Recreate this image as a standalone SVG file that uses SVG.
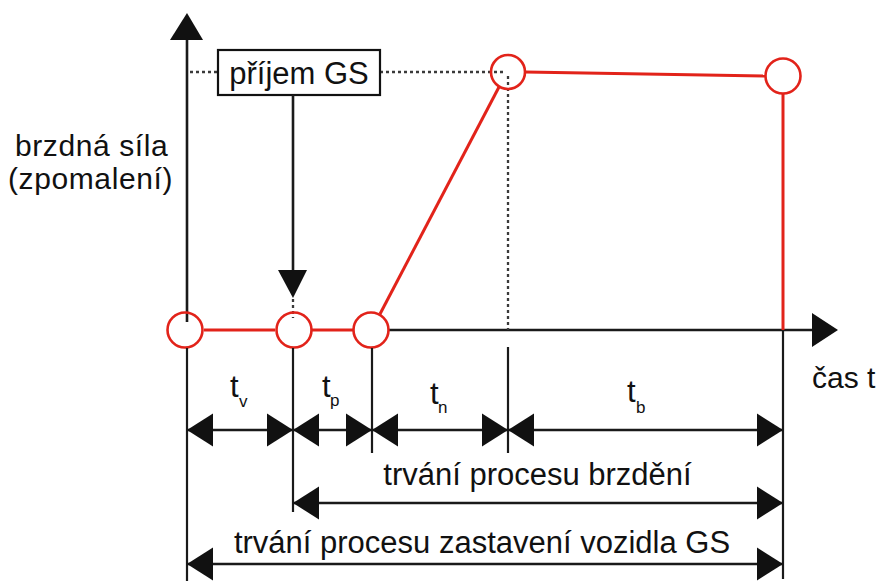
<svg xmlns="http://www.w3.org/2000/svg" width="884" height="581" viewBox="0 0 884 581">
  <style>
    .ax { stroke: #1a1a1a; stroke-width: 2.6; fill: none; }
    .dim { stroke: #1a1a1a; stroke-width: 2.4; fill: none; marker-start: url(#tip); marker-end: url(#tip); }
    .ext { stroke: #1a1a1a; stroke-width: 2.2; fill: none; }
    .dot { stroke: #3a3a3a; stroke-width: 2.3; stroke-dasharray: 3 3; fill: none; }
    .red { stroke: #e2231a; stroke-width: 3; fill: none; }
    .node { stroke: #e2231a; stroke-width: 2.6; fill: none; }
    .lbl { font-family: "Liberation Sans", Arial, sans-serif; fill: #111; }
    .big { font-size: 31px; }
    .sub { font-size: 17px; }
  </style>
  <defs>
    <marker id="tip" markerUnits="userSpaceOnUse" markerWidth="26" markerHeight="34" viewBox="0 -17 26 34" refX="26" refY="0" orient="auto-start-reverse">
      <path d="M0,-16.5 L26,0 L0,16.5 Z" fill="#111"/>
    </marker>
  </defs>

  <rect width="884" height="581" fill="#fff"/>

  <!-- axes -->
  <g id="axes">
    <line class="ax" x1="187" y1="38" x2="187" y2="322"/>
    <path d="M187,13 L203,40 L170,40 Z" fill="#111"/>
    <line class="ax" x1="389" y1="330" x2="814" y2="330"/>
    <path d="M838,330 L812,313 L812,347 Z" fill="#111"/>
    <text class="lbl" x="15" y="156" font-size="30" letter-spacing="0.6">brzdná síla</text>
    <text class="lbl" x="8" y="189" font-size="30" letter-spacing="0.6">(zpomalení)</text>
    <text class="lbl" x="812" y="388" font-size="30">čas t</text>
  </g>

  <!-- guide lines -->
  <g id="guides">
    <line class="dot" x1="190" y1="72" x2="218" y2="72"/>
    <line class="dot" x1="380" y1="72" x2="505" y2="72"/>
    <line class="dot" x1="508" y1="76" x2="508" y2="330"/>
    <line class="dot" x1="293" y1="299" x2="293" y2="318"/>
  </g>

  <!-- brake force curve -->
  <g id="curve">
    <line class="red" x1="204" y1="330" x2="275" y2="330"/>
    <line class="red" x1="311" y1="330" x2="354" y2="330"/>
    <line class="red" x1="380" y1="314" x2="499" y2="87"/>
    <line class="red" x1="525" y1="72" x2="765" y2="76"/>
    <line class="red" x1="783" y1="94" x2="783" y2="330"/>
  </g>

  <g id="p0"><circle class="node" cx="185" cy="330" r="17.5"/></g>
  <g id="p1"><circle class="node" cx="294" cy="330" r="17.5"/></g>
  <g id="p2"><circle class="node" cx="371" cy="330" r="17.5"/></g>
  <g id="p3"><circle class="node" cx="508" cy="72" r="17"/></g>
  <g id="p4"><circle class="node" cx="783" cy="76" r="17.5"/></g>

  <!-- signal reception -->
  <g id="signal">
    <rect x="218" y="50" width="162" height="45" fill="#fff" stroke="#111" stroke-width="2.2"/>
    <text class="lbl" x="299" y="84" font-size="31" text-anchor="middle">příjem GS</text>
    <line class="ax" x1="293" y1="95" x2="293" y2="272"/>
    <path d="M293,298 L278,270 L307,270 Z" fill="#111"/>
  </g>

  <!-- extension lines -->
  <g id="extensions">
    <line class="ext" x1="187" y1="348" x2="187" y2="581"/>
    <line class="ext" x1="293" y1="348" x2="293" y2="512"/>
    <line class="ext" x1="372" y1="348" x2="372" y2="453"/>
    <line class="ext" x1="508" y1="347" x2="508" y2="453"/>
    <line class="ext" x1="783" y1="330" x2="783" y2="579"/>
  </g>

  <!-- dimension arrows -->
  <g id="connectors">
    <line class="dim" x1="187" y1="430" x2="293" y2="430"/>
    <line class="dim" x1="293" y1="430" x2="372" y2="430"/>
    <line class="dim" x1="372" y1="430" x2="508" y2="430"/>
    <line class="dim" x1="508" y1="430" x2="783" y2="430"/>
    <line class="dim" x1="293" y1="503" x2="783" y2="503"/>
    <line class="dim" x1="187" y1="564" x2="783" y2="564"/>
  </g>

  <!-- interval labels -->
  <g id="labels">
    <text class="lbl big" x="230" y="397">t</text><text class="lbl sub" x="239" y="407">v</text>
    <text class="lbl big" x="322" y="397">t</text><text class="lbl sub" x="330" y="406">p</text>
    <text class="lbl big" x="430" y="404">t</text><text class="lbl sub" x="438" y="413">n</text>
    <text class="lbl big" x="627" y="402">t</text><text class="lbl sub" x="636" y="413">b</text>
    <text class="lbl big" x="537.5" y="485" text-anchor="middle">trvání procesu brzdění</text>
    <text class="lbl big" x="482" y="553" text-anchor="middle">trvání procesu zastavení vozidla GS</text>
  </g>
</svg>
